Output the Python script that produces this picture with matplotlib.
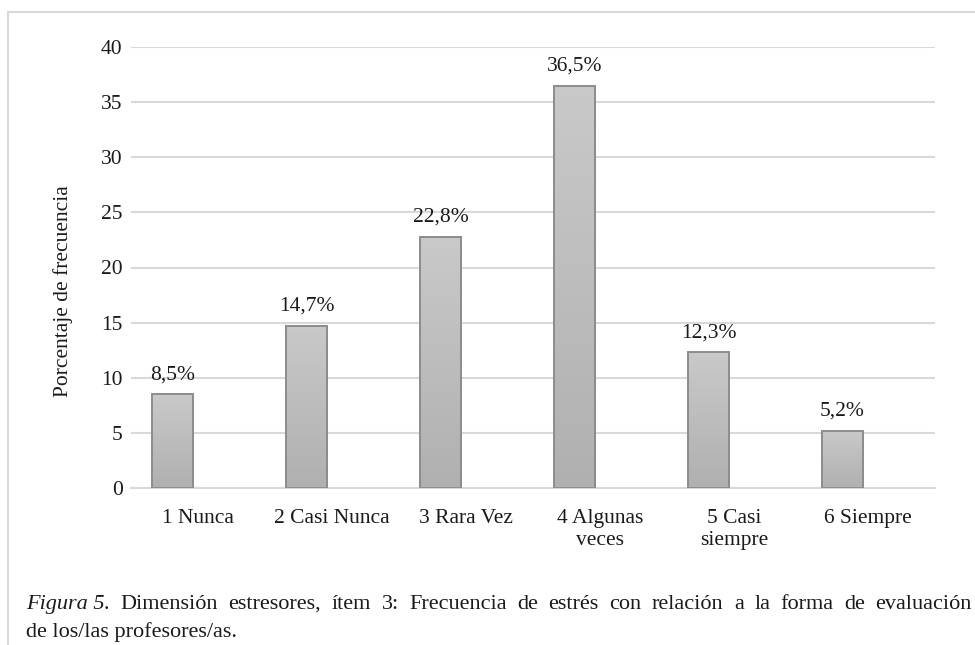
import numpy as np
import matplotlib
matplotlib.use("Agg")
import matplotlib.pyplot as plt
from matplotlib.lines import Line2D

categories = ["1 Nunca", "2 Casi Nunca", "3 Rara Vez", "4 Algunas\nveces", "5 Casi\nsiempre", "6 Siempre"]
values = [8.5, 14.7, 22.8, 36.5, 12.3, 5.2]
value_labels = ["8,5%", "14,7%", "22,8%", "36,5%", "12,3%", "5,2%"]
yticks = [0, 5, 10, 15, 20, 25, 30, 35, 40]
caption_words = ("Dimensión estresores, ítem 3: Frecuencia de estrés con relación "
                 "a la forma de evaluación").split()
caption_line2 = "de los/las profesores/as."

plt.rcParams["font.family"] = ["Liberation Serif", "DejaVu Serif"]
FS = 15.5
CAP_FS = 16
TXT = "#1a1a1a"

W, H = 975, 645
fig = plt.figure(figsize=(W / 100, H / 100), dpi=100)
ax = fig.add_axes([131 / W, 1 - 488 / H, (935 - 131) / W, (488 - 47) / H])

x = np.arange(len(categories))
bar_x = x - 0.19
bars = ax.bar(bar_x, values, width=0.31, facecolor="none", edgecolor="#8c8c8c",
              linewidth=1.4, zorder=3)

# vertical gray gradient inside each bar
grad = np.linspace(0, 1, 256).reshape(-1, 1)
cmap = matplotlib.colors.LinearSegmentedColormap.from_list("g", ["#b0b0b0", "#c9c9c9"])
for b in bars:
    x0, w, h = b.get_x(), b.get_width(), b.get_height()
    im = ax.imshow(grad, extent=[x0, x0 + w, 0, h], origin="lower", cmap=cmap,
                   aspect="auto", zorder=2)
    im.set_clip_path(b)

for xi, v, lab in zip(bar_x, values, value_labels):
    ax.text(xi, v + 0.9, lab, ha="center", va="bottom", fontsize=FS, color=TXT)

ax.set_xlim(-0.5, len(categories) - 0.5)
ax.set_ylim(0, 40)
ax.set_yticks(yticks)
ax.set_yticklabels([str(t) for t in yticks], fontsize=FS, color=TXT)
ax.set_xticks(x)
ax.set_xticklabels(categories, fontsize=FS, color=TXT, linespacing=1.25)
ax.tick_params(axis="y", length=0, pad=6)
ax.tick_params(axis="x", length=0, pad=15)
ax.grid(axis="y", color="#d9d9d9", linewidth=1.5, zorder=0)
ax.set_axisbelow(True)
for s in ["top", "right", "left"]:
    ax.spines[s].set_visible(False)
ax.spines["bottom"].set_color("#d9d9d9")
ax.spines["bottom"].set_linewidth(1.5)
ax.set_ylabel("Porcentaje de frecuencia", fontsize=FS, color=TXT)
ax.yaxis.set_label_coords(-0.072, 0.447)

# frame around the chart
fig.add_artist(Line2D([8 / W, 8 / W], [0, 1 - 12 / H], color="#d9d9d9", linewidth=1.5,
                      transform=fig.transFigure))
fig.add_artist(Line2D([8 / W, 1], [1 - 12 / H, 1 - 12 / H], color="#d9d9d9", linewidth=1.5,
                      transform=fig.transFigure))

# caption, first line justified across the text width
cap_y1 = 1 - 609 / H
cap_y2 = 1 - 637 / H
left_px, right_px = 26, 972
fig.canvas.draw()
renderer = fig.canvas.get_renderer()
t1 = fig.text(left_px / W, cap_y1, "Figura 5.", fontsize=CAP_FS, style="italic",
              va="baseline", color=TXT)
word_artists = [t1]
for wd in caption_words:
    word_artists.append(fig.text(0, cap_y1, wd, fontsize=CAP_FS, va="baseline", color=TXT))
widths = [a.get_window_extent(renderer).width for a in word_artists]
gap = (right_px - left_px - sum(widths)) / (len(word_artists) - 1)
pos = left_px
for a, wdt in zip(word_artists, widths):
    a.set_x(pos / W)
    pos += wdt + gap
fig.text(left_px / W, cap_y2, caption_line2, fontsize=CAP_FS, va="baseline", color=TXT)

fig.savefig("out.png", dpi=100)
